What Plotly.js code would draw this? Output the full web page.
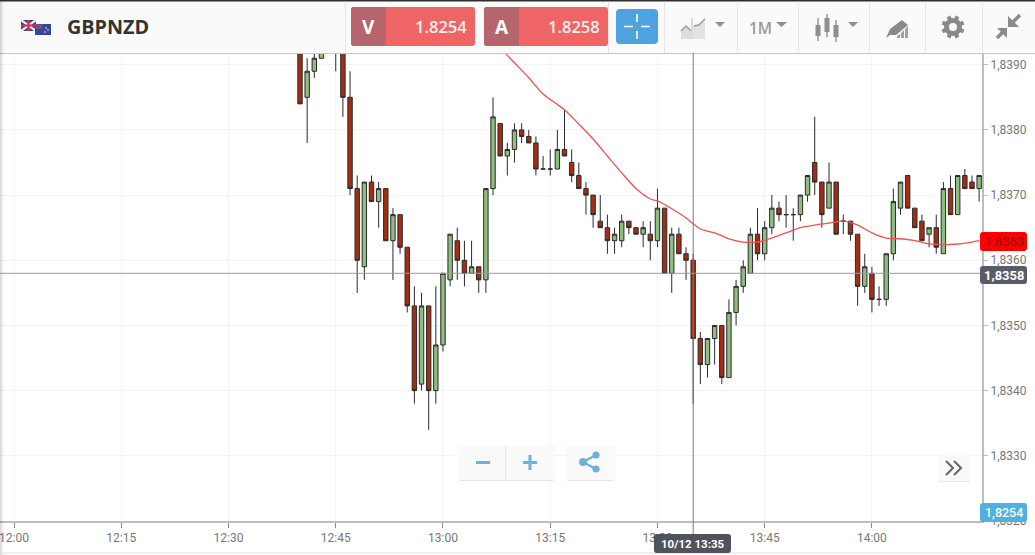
<!DOCTYPE html>
<html>
<head>
<meta charset="utf-8">
<script src="https://cdn.plot.ly/plotly-3.0.1.min.js"></script>
<style>html,body{margin:0;padding:0;background:#fff;overflow:hidden}#chart{width:1035px;height:555px}</style>
</head>
<body>
<div id="chart"></div>
<script>
const day = '2017-10-12 ';
const times = ['12:40','12:41','12:42','12:43','12:44','12:45','12:46','12:47','12:48','12:49','12:50','12:51','12:52','12:53','12:54','12:55','12:56','12:57','12:58','12:59',
'13:00','13:01','13:02','13:03','13:04','13:05','13:06','13:07','13:08','13:09','13:10','13:11','13:12','13:13','13:14','13:15','13:16','13:17','13:18','13:19',
'13:20','13:21','13:22','13:23','13:24','13:25','13:26','13:27','13:28','13:29','13:30','13:31','13:32','13:33','13:34','13:35','13:36','13:37','13:38','13:39',
'13:40','13:41','13:42','13:43','13:44','13:45','13:46','13:47','13:48','13:49','13:50','13:51','13:52','13:53','13:54','13:55','13:56','13:57','13:58','13:59',
'14:00','14:01','14:02','14:03','14:04','14:05','14:06','14:07','14:08','14:09','14:10','14:11','14:12','14:13','14:14','14:15'];
const open = [1.8395,1.8385,1.8389,1.8391,1.8394,1.8393,1.8397,1.8385,1.8371,1.8359,1.8372,1.8369,1.8371,1.8363,1.8367,1.8362,1.8353,1.8341,1.8353,1.8340,
1.8347,1.8357,1.8363,1.8360,1.8358,1.8359,1.8357,1.8371,1.8381,1.8376,1.8377,1.8380,1.8379,1.8378,1.8374,1.8374,1.8374,1.8377,1.8375,1.8373,
1.8371,1.8370,1.8366,1.8365,1.8363,1.8363,1.8366,1.8365,1.8364,1.8364,1.8363,1.8368,1.8358,1.8364,1.8361,1.8360,1.8348,1.8344,1.8348,1.8350,
1.8342,1.8352,1.8356,1.8358,1.8364,1.8361,1.8365,1.8368,1.8367,1.8367,1.8367,1.8370,1.8375,1.8372,1.8368,1.8372,1.8366,1.8366,1.8364,1.8356,
1.8358,1.8354,1.8354,1.8361,1.8368,1.8373,1.8368,1.8366,1.8364,1.8365,1.8361,1.8371,1.8367,1.8373,1.8372,1.8371];
const high = [1.8397,1.8391,1.8393,1.8396,1.8399,1.8399,1.8399,1.8389,1.8373,1.8372,1.8373,1.8372,1.8371,1.8368,1.8367,1.8362,1.8356,1.8355,1.8353,1.8356,
1.8358,1.8364,1.8365,1.8363,1.8363,1.8359,1.8371,1.8385,1.8381,1.8378,1.8381,1.8381,1.8380,1.8379,1.8376,1.8377,1.8380,1.8383,1.8377,1.8375,
1.8372,1.8370,1.8370,1.8367,1.8365,1.8367,1.8366,1.8365,1.8366,1.8366,1.8371,1.8368,1.8365,1.8365,1.8362,1.8361,1.8349,1.8348,1.8350,1.8350,
1.8354,1.8357,1.8360,1.8365,1.8368,1.8366,1.8370,1.8369,1.8370,1.8368,1.8370,1.8373,1.8382,1.8372,1.8375,1.8372,1.8367,1.8366,1.8364,1.8361,
1.8359,1.8356,1.8361,1.8371,1.8372,1.8373,1.8368,1.8367,1.8365,1.8367,1.8372,1.8373,1.8373,1.8374,1.8373,1.8373];
const low = [1.8384,1.8378,1.8388,1.8391,1.8393,1.8389,1.8382,1.8370,1.8355,1.8357,1.8369,1.8365,1.8363,1.8357,1.8361,1.8352,1.8338,1.8340,1.8334,1.8338,
1.8346,1.8356,1.8357,1.8356,1.8358,1.8355,1.8355,1.8370,1.8376,1.8373,1.8375,1.8378,1.8378,1.8373,1.8374,1.8373,1.8374,1.8376,1.8372,1.8371,
1.8367,1.8365,1.8365,1.8361,1.8361,1.8362,1.8364,1.8364,1.8362,1.8360,1.8362,1.8358,1.8355,1.8361,1.8357,1.8338,1.8341,1.8342,1.8344,1.8341,
1.8342,1.8350,1.8355,1.8358,1.8360,1.8360,1.8364,1.8366,1.8365,1.8363,1.8366,1.8369,1.8370,1.8365,1.8368,1.8364,1.8364,1.8363,1.8353,1.8355,
1.8352,1.8353,1.8353,1.8360,1.8367,1.8368,1.8365,1.8363,1.8362,1.8361,1.8361,1.8367,1.8367,1.8371,1.8371,1.8369];
const close = [1.8384,1.8389,1.8391,1.8394,1.8397,1.8397,1.8385,1.8371,1.8360,1.8372,1.8369,1.8371,1.8363,1.8367,1.8362,1.8353,1.8340,1.8353,1.8340,1.8347,
1.8358,1.8364,1.8360,1.8358,1.8359,1.8357,1.8371,1.8382,1.8376,1.8377,1.8380,1.8379,1.8378,1.8374,1.8374,1.8374,1.8377,1.8376,1.8373,1.8371,
1.8370,1.8367,1.8365,1.8363,1.8364,1.8366,1.8365,1.8364,1.8365,1.8363,1.8368,1.8358,1.8364,1.8361,1.8360,1.8348,1.8344,1.8348,1.8350,1.8342,
1.8352,1.8356,1.8359,1.8364,1.8361,1.8365,1.8368,1.8367,1.8367,1.8367,1.8370,1.8373,1.8372,1.8367,1.8372,1.8364,1.8366,1.8364,1.8356,1.8359,
1.8354,1.8354,1.8361,1.8369,1.8372,1.8368,1.8365,1.8363,1.8365,1.8362,1.8371,1.8367,1.8373,1.8371,1.8371,1.8373];
const maTimes = ['13:08','13:10','13:12','13:14','13:16','13:17','13:19','13:21','13:23','13:25','13:27','13:29','13:30','13:32','13:34','13:35','13:36','13:38','13:40','13:42','13:44','13:46','13:48','13:50','13:52','13:54','13:56','13:58','14:00','14:02','14:04','14:06','14:08','14:10','14:12','14:14','14:15'];
const maValues = [1.83926,1.83903,1.8388,1.83855,1.83839,1.83831,1.83809,1.83786,1.8376,1.83734,1.8371,1.83694,1.83691,1.83679,1.83665,1.83656,1.83648,1.83642,1.83633,1.83628,1.83628,1.83634,1.83642,1.8365,1.83654,1.83657,1.8366,1.83654,1.83642,1.83634,1.83633,1.8363,1.83625,1.83624,1.83625,1.83628,1.8363];
const tickTimes = ['12:00','12:15','12:30','12:45','13:00','13:15','13:30','13:45','14:00'];
const symbol = 'GBPNZD', bid = '1.8254', ask = '1.8258', crossTime = '13:35', crossPrice = 1.8358;
const maTag = '1,8363', crossTag = '1,8358', bidTag = '1,8254', dateTag = '10/12 13:35';

const W = 982, T = 53, H = 468;
const px = x => x / W, py = y => 1 - (y - T) / H;
const shapes = [], annotations = [];
const rect = (x0,y0,x1,y1,fill,line) => shapes.push({type:'rect',xref:'paper',yref:'paper',x0:px(x0),x1:px(x1),y0:py(y0),y1:py(y1),fillcolor:fill,line:{width:line?1:0,color:line||fill},layer:'above'});
const path = (d,fill,line,w) => { let i=0; const p = d.replace(/-?\d+(\.\d+)?/g, n => (i++%2===0 ? px(+n) : py(+n)).toFixed(5));
  shapes.push({type:'path',xref:'paper',yref:'paper',path:p,fillcolor:fill||'rgba(0,0,0,0)',line:{width:line?(w||1):0,color:line||'rgba(0,0,0,0)'},layer:'above'}); };
const circle = (cx,cy,r,fill) => shapes.push({type:'circle',xref:'paper',yref:'paper',x0:px(cx-r),x1:px(cx+r),y0:py(cy+r),y1:py(cy-r),fillcolor:fill,line:{width:0},layer:'above'});
const round = (x0,y0,x1,y1,r,fill,line) => path(`M${x0+r} ${y0}L${x1-r} ${y0}Q${x1} ${y0} ${x1} ${y0+r}L${x1} ${y1-r}Q${x1} ${y1} ${x1-r} ${y1}L${x0+r} ${y1}Q${x0} ${y1} ${x0} ${y1-r}L${x0} ${y0+r}Q${x0} ${y0} ${x0+r} ${y0}Z`,fill,line);
const text = (x,y,t,size,color,family,weight,anchor) => annotations.push({xref:'paper',yref:'paper',x:px(x),y:py(y),text:t,showarrow:false,xanchor:anchor||'center',yanchor:'middle',borderpad:0,font:{size,color,family:family||'Open Sans',weight:weight||400}});

// toolbar
rect(0,0,1035,53,'#fafafa');
rect(0,0,1035,1.5,'#2e2e2e');
rect(0,53,1035,54,'#c8c8c8');
[345,608,664,737,798,869,925,982].forEach(x => rect(x,1.5,x+0.7,53,'#dedede'));
// left edge shadow and bottom rule
rect(0,1.5,1.5,555,'rgba(0,0,0,0.15)');
rect(1.5,1.5,3.5,555,'rgba(0,0,0,0.06)');
rect(0,552.5,1035,553.5,'#e2e2e2');
// flags
rect(21,20,36,31,'#3b3f8f');
path('M21 20L36 31M36 20L21 31','',"#f0e6ea",2.2);
path('M28.5 20L28.5 31M21 25.5L36 25.5','',"#d8334a",2.2);
rect(35,24,51,35,'#2b4a9b');
rect(35,24,42,29,'#7a4f86');
circle(46,28,0.9,'#e8a0a0'); circle(48,30,0.9,'#e8a0a0'); circle(45,32,0.9,'#e8a0a0');
text(66,27,symbol,19.8,'#333333','Open Sans',700,'left');
// V / A buttons
round(351,7,475,46,3,'#ef6565');
path('M354 7L386 7L386 46L354 46Q351 46 351 43L351 10Q351 7 354 7Z','#b5656b');
text(368.5,27,'V',19,'#ffffff','Open Sans',700);
text(468,27,bid,16.5,'#fdf0f0','Open Sans',600,'right');
round(484,7,608,46,3,'#ef6565');
path('M487 7L519 7L519 46L487 46Q484 46 484 43L484 10Q484 7 487 7Z','#b5656b');
text(502,27,'A',19,'#ffffff','Open Sans',700);
text(601,27,ask,16.5,'#fdf0f0','Open Sans',600,'right');
// crosshair button
round(616,9,658,44,4,'#4ea3df');
path('M624 26.5L633 26.5M641 26.5L650 26.5M637 14L637 22M637 31L637 39','', '#ffffff',1.6);
// area icon
path('M681 39L681 32L686 27L691 32L691 39Z','#dcdcdc');
path('M693 39L693 26L705 21L705 39Z','#e2e2e2');
path('M681 31L686 26L691 31','', '#9a9a9a',1.4);
path('M694 26L699 25L705 19','', '#9a9a9a',1.4);
path('M692 18L692 39','', '#a8a8a8',0.8);
path('M715 22L725 22L720 27Z','#8f8f8f');
text(760,28,'1M',15.5,'#9a9a9a','Open Sans',600);
path('M776 22L787 22L781.5 27Z','#8f8f8f');
// candles icon
[[818,18,41,25,36],[827,14,37,18,32],[836,20,42,25,37]].forEach(c => { path(`M${c[0]} ${c[1]}L${c[0]} ${c[2]}`,'','#8f8f8f',1.4); rect(c[0]-2.5,c[3],c[0]+2.5,c[4],'#8f8f8f'); });
path('M848 22L858 22L853 27Z','#8f8f8f');
// marker icon
path('M890 29L902 20L908 25L896 35L890 35L886 38Z','#8a8a8a');
path('M897 38L900 38L900 34L897 36Z','#a0a0a0');
path('M901 38L904 38L904 30L901 33Z','#a0a0a0');
path('M905 38L908 38L908 26L905 29Z','#a0a0a0');
// gear
const gear = [953,27];
for (let k = 0; k < 8; k++) { const a = k*Math.PI/4 + Math.PI/8, c = Math.cos(a), s = Math.sin(a);
  path(`M${gear[0]+6*c} ${gear[1]+6*s}L${gear[0]+11.5*c} ${gear[1]+11.5*s}`,'','#8a8a8a',4); }
circle(gear[0],gear[1],9,'#8a8a8a'); circle(gear[0],gear[1],4,'#fafafa');
// compress arrows
path('M1008 16L1008 27L1019 27Z','#8a8a8a');
path('M1012 23L1020 15','','#8a8a8a',3.6);
path('M997 28L1007 28L1007 38Z','#8a8a8a');
path('M1003 32L997 38','','#8a8a8a',3.6);

// zoom controls
round(458,446,555,481,3,'#e6e6e6'); round(458,446,555,480,3,'#fafafa');
rect(505.5,446,506.2,480,'#dcdcdc');
rect(476,461,490,464,'#6eb2dc');
rect(523,461,537,464,'#6eb2dc'); rect(528.5,455,531.5,470,'#6eb2dc');
round(566,446,615,481,3,'#e6e6e6'); round(566,446,615,480,3,'#fafafa');
path('M583 462L596 455M583 462L596 469','','#6eb2dc',2.2);
circle(583,462,4,'#6eb2dc'); circle(596,455,3.6,'#6eb2dc'); circle(596,469,3.6,'#6eb2dc');
round(938,455,970,482,3,'#e6e6e6'); round(938,455,970,481,3,'#f9f9f9');
path('M946 461L953 468L946 475M954 461L961 468L954 475','','#666666',2);

// crosshair
shapes.push({type:'line',xref:'x',yref:'paper',x0:day+crossTime,x1:day+crossTime,y0:py(534),y1:1,line:{color:'#7b7b7b',width:1},layer:'above'});
shapes.push({type:'line',xref:'paper',yref:'y',x0:0,x1:1,y0:crossPrice,y1:crossPrice,line:{color:'#9a9a9a',width:1},layer:'above'});

// price / date tags
round(980,232,1027,251,3,'#ff0000');
text(1004.5,241.5,maTag,13,'#8a1212','Roboto',400);
round(980,266,1027,284,3,'#595b68');
text(1004.5,275.5,crossTag,13,'#ffffff','Roboto',700);
round(980,503,1027,522,3,'#4fb1e1');
text(1004.5,512.5,bidTag,12.5,'#ffffff','Roboto',500);
round(654,534,731,553,3,'#50525e');
text(692.5,543.5,dateTag,11.5,'#ffffff','Roboto',700);

const data = [
  {type:'candlestick',x:times.map(t=>day+t),open,high,low,close,whiskerwidth:0,hoverinfo:'skip',
   increasing:{fillcolor:'#8fbd80',line:{color:'#2a2a2a',width:1}},
   decreasing:{fillcolor:'#a62c12',line:{color:'#2a2a2a',width:1}}},
  {type:'scatter',mode:'lines',x:maTimes.map(t=>day+t),y:maValues,hoverinfo:'skip',
   line:{color:'#f05252',width:1.3,shape:'spline',smoothing:0.8}}
];
const layout = {
  width:1035,height:555,margin:{l:0,r:53,t:53,b:34,pad:0},boxgap:0.12,
  paper_bgcolor:'#ffffff',plot_bgcolor:'#ffffff',showlegend:false,separators:',.',
  xaxis:{type:'date',range:['2017-10-12 11:58:02','2017-10-12 14:15:24'],tickmode:'array',tickvals:tickTimes.map(t=>day+t),ticktext:tickTimes,
    ticklabeloverflow:'allow',rangeslider:{visible:false},showgrid:true,gridcolor:'#f3f3f3',gridwidth:1,zeroline:false,
    showline:true,linecolor:'#bdbdbd',linewidth:2,ticks:'outside',ticklen:5,tickcolor:'#888888',
    tickfont:{family:'Roboto',size:12,color:'#777777'},fixedrange:true},
  yaxis:{side:'right',range:[1.8320,1.83918],tick0:1.832,dtick:0.001,tickformat:'.4f',
    showgrid:true,gridcolor:'#f3f3f3',gridwidth:1,zeroline:false,
    showline:true,linecolor:'#bdbdbd',linewidth:2,ticks:'outside',ticklen:4,tickcolor:'#bdbdbd',
    tickfont:{family:'Roboto',size:12,color:'#777777'},fixedrange:true},
  shapes,annotations
};
Plotly.newPlot('chart',data,layout,{displayModeBar:false,staticPlot:true});
</script>
</body>
</html>
